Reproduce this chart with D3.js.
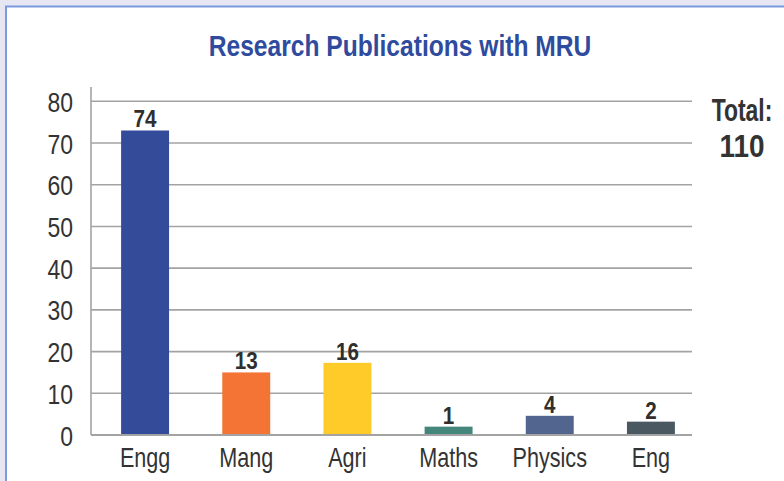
<!DOCTYPE html>
<html>
<head>
<meta charset="utf-8">
<script src="https://cdn.jsdelivr.net/npm/d3@7"></script>
<style>
  html, body { margin: 0; padding: 0; background: #e6e7f3; }
  svg { display: block; }
  text { font-family: "Liberation Sans", Arial, Helvetica, sans-serif; }
</style>
</head>
<body>
<script>
const categories = ["Engg", "Mang", "Agri", "Maths", "Physics", "Eng"];
const barValues = [73, 15, 17.3, 2, 4.6, 3.2];
const valueLabels = ["74", "13", "16", "1", "4", "2"];
const barColors = ["#344b9a", "#f37435", "#ffcb29", "#44877a", "#52658f", "#4a5862"];
const yTicks = [0, 10, 20, 30, 40, 50, 60, 70, 80];
const titleText = "Research Publications with MRU";
const totalLines = ["Total:", "110"];

const W = 784, H = 481;
const svg = d3.select("body").append("svg").attr("width", W).attr("height", H);

// horizontally condense text (imitates a condensed typeface)
function condense(sel, sx) {
  sel.each(function (d, i) {
    const t = d3.select(this);
    const k = typeof sx === "function" ? sx(d, i) : sx;
    const x = +t.attr("x") || 0, y = +t.attr("y") || 0;
    t.attr("x", 0).attr("y", 0).attr("transform", `translate(${x},${y}) scale(${k},1)`);
  });
}

// panel
svg.append("rect").attr("x", 6).attr("y", 6.5).attr("width", W).attr("height", H)
  .attr("fill", "#ffffff").attr("stroke", "#7b9be0").attr("stroke-width", 2);

const x = d3.scaleBand().domain(categories).range([94.5, 701.5]).paddingInner(0.526).paddingOuter(0.263);
const y = d3.scaleLinear().domain([0, 80]).range([435, 101.3]);

// gridlines
svg.append("g").selectAll("line").data(yTicks.filter(t => t > 0)).join("line")
  .attr("x1", 91).attr("x2", 692)
  .attr("y1", d => y(d)).attr("y2", d => y(d))
  .attr("stroke", "#a3a3a3").attr("stroke-width", 1.6);

// y axis
const yAxis = d3.axisLeft(y).tickValues(yTicks).tickSize(0).tickPadding(18);
const gy = svg.append("g").attr("transform", "translate(91,0)").call(yAxis);
gy.select(".domain").remove();
gy.selectAll("text").attr("font-size", 28).attr("fill", "#333").attr("font-family", null)
  .attr("dy", "0.36em").call(condense, 0.82);
svg.append("line").attr("x1", 91).attr("x2", 91).attr("y1", 87).attr("y2", 435)
  .attr("stroke", "#a3a3a3").attr("stroke-width", 1.6);

// bars
svg.append("g").selectAll("rect").data(categories).join("rect")
  .attr("x", d => x(d))
  .attr("width", x.bandwidth())
  .attr("y", (d, i) => y(barValues[i]))
  .attr("height", (d, i) => y(0) - y(barValues[i]))
  .attr("fill", (d, i) => barColors[i]);

// baseline
svg.append("line").attr("x1", 91).attr("x2", 692).attr("y1", y(0)).attr("y2", y(0))
  .attr("stroke", "#a3a3a3").attr("stroke-width", 2);

// value labels
svg.append("g").selectAll("text").data(categories).join("text")
  .attr("x", d => x(d) + x.bandwidth() / 2)
  .attr("y", (d, i) => y(barValues[i]) - 3)
  .attr("text-anchor", "middle")
  .attr("font-size", 24).attr("font-weight", "bold").attr("fill", "#2f2f2f")
  .text((d, i) => valueLabels[i])
  .call(condense, 0.86);

// x labels
const xAxis = d3.axisBottom(x).tickSize(0).tickPadding(0);
const gx = svg.append("g").attr("transform", `translate(0,${y(0)})`).call(xAxis);
gx.select(".domain").remove();
gx.selectAll("text").attr("font-size", 27).attr("fill", "#333").attr("font-family", null)
  .attr("dy", null).attr("y", 32).call(condense, 0.8);

// title
svg.append("text").attr("x", 400).attr("y", 56).attr("text-anchor", "middle")
  .attr("font-size", 30).attr("font-weight", "bold").attr("fill", "#2f4b9e")
  .text(titleText).call(condense, 0.82);

// total
svg.append("g").selectAll("text").data(totalLines).join("text")
  .attr("x", 742).attr("y", (d, i) => 121 + i * 36)
  .attr("text-anchor", "middle")
  .attr("font-size", 31).attr("font-weight", "bold").attr("fill", "#333")
  .text(d => d).call(condense, (d, i) => i === 0 ? 0.74 : 0.9);
</script>
</body>
</html>
